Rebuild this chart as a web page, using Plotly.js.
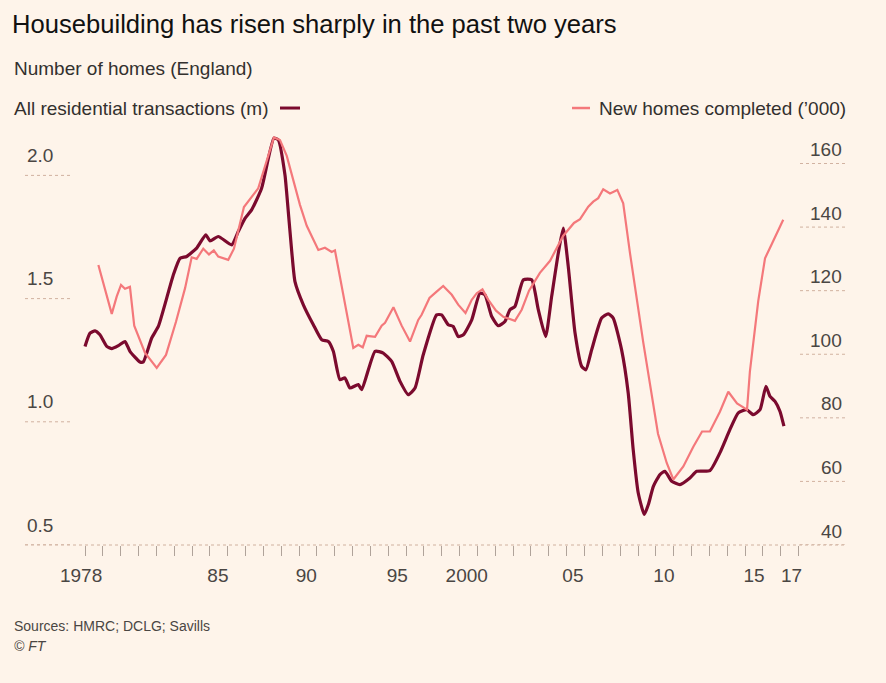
<!DOCTYPE html>
<html>
<head>
<meta charset="utf-8">
<script src="https://cdn.plot.ly/plotly-3.0.1.min.js"></script>
<style>
  html, body { margin: 0; padding: 0; background: #fef4ea; }
  #chart { width: 886px; height: 683px; }
</style>
</head>
<body>
<div id="chart"></div>
<script>
// All residential transactions (m)
const transYears = [
  1978.0, 1978.28, 1978.56, 1978.84, 1979.22, 1979.50, 1979.87, 1980.24, 1980.52, 1981.08,
  1981.27, 1981.74, 1982.11, 1982.58, 1982.95, 1983.33, 1983.70, 1984.26, 1984.77, 1985.01,
  1985.47, 1986.22, 1986.59, 1986.97, 1987.34, 1987.90, 1988.59, 1988.84, 1989.21, 1989.30,
  1989.59, 1989.77, 1990.24, 1990.80, 1991.27, 1991.64, 1991.92, 1992.29, 1992.57, 1992.85,
  1993.32, 1993.51, 1994.26, 1994.72, 1995.19, 1995.66, 1996.12, 1996.50, 1996.96, 1997.71,
  1997.99, 1998.36, 1998.64, 1998.92, 1999.21, 1999.68, 2000.14, 2000.42, 2000.80, 2001.17,
  2001.54, 2001.82, 2002.10, 2002.57, 2003.04, 2003.41, 2003.82, 2004.16, 2004.53, 2004.81,
  2005.09, 2005.47, 2005.84, 2006.08, 2006.40, 2006.96, 2007.33, 2007.61, 2008.08, 2008.45,
  2008.73, 2009.01, 2009.35, 2009.58, 2009.86, 2010.23, 2010.51, 2010.89, 2011.35, 2011.91,
  2012.29, 2013.03, 2013.59, 2014.15, 2014.62, 2015.09, 2015.46, 2015.84, 2016.17, 2016.40,
  2016.68, 2016.96, 2017.18
];
const transValues = [
  1.306, 1.360, 1.369, 1.353, 1.306, 1.297, 1.309, 1.326, 1.286, 1.243,
  1.243, 1.340, 1.387, 1.502, 1.596, 1.664, 1.671, 1.705, 1.759, 1.734,
  1.752, 1.718, 1.772, 1.826, 1.860, 1.948, 2.151, 2.144, 2.002, 1.934,
  1.691, 1.569, 1.475, 1.394, 1.333, 1.326, 1.286, 1.171, 1.178, 1.137,
  1.151, 1.130, 1.286, 1.279, 1.245, 1.164, 1.110, 1.137, 1.272, 1.434,
  1.434, 1.394, 1.387, 1.346, 1.353, 1.414, 1.522, 1.515, 1.427, 1.390,
  1.407, 1.455, 1.468, 1.576, 1.576, 1.455, 1.346, 1.509, 1.684, 1.786,
  1.630, 1.360, 1.225, 1.211, 1.292, 1.421, 1.438, 1.421, 1.292, 1.117,
  0.887, 0.712, 0.624, 0.664, 0.738, 0.786, 0.799, 0.759, 0.745, 0.772,
  0.799, 0.802, 0.874, 0.968, 1.036, 1.049, 1.029, 1.049, 1.144, 1.103,
  1.083, 1.042, 0.982
];

// New homes completed ('000)
const homesYears = [
  1978.75, 1979.50, 1979.78, 1980.02, 1980.24, 1980.52, 1980.76, 1981.36, 1982.02, 1982.54,
  1983.10, 1983.61, 1983.98, 1984.26, 1984.63, 1984.95, 1985.22, 1985.47, 1986.03, 1986.35,
  1986.91, 1987.34, 1987.71, 1988.59, 1988.93, 1989.31, 1989.68, 1990.05, 1990.43, 1990.80,
  1991.08, 1991.45, 1991.83, 1992.01, 1992.29, 1993.04, 1993.32, 1993.57, 1993.79, 1994.26,
  1994.63, 1994.82, 1995.29, 1995.75, 1996.22, 1996.68, 1996.87, 1997.31, 1997.71, 1998.08,
  1998.56, 1998.92, 1999.33, 1999.68, 1999.96, 2000.28, 2000.61, 2001.04, 2001.45, 2002.10,
  2002.48, 2002.89, 2003.50, 2004.07, 2004.80, 2005.41, 2005.75, 2006.21, 2006.49, 2006.77,
  2007.05, 2007.43, 2007.84, 2008.17, 2008.55, 2009.30, 2010.12, 2010.61, 2010.98, 2011.54,
  2012.10, 2012.59, 2013.03, 2013.59, 2014.06, 2014.55, 2015.11, 2015.27, 2015.74, 2016.12,
  2016.40, 2016.73, 2017.14
];
const homesValues = [
  128.1, 112.7, 118.2, 121.8, 120.6, 121.2, 109.0, 100.5, 95.7, 99.8,
  110.2, 120.8, 130.5, 130.0, 133.2, 131.4, 132.7, 130.7, 129.7, 133.2,
  146.3, 149.6, 152.2, 168.2, 167.4, 162.4, 154.5, 147.0, 140.4, 136.0,
  132.8, 133.5, 132.2, 132.7, 124.4, 102.0, 103.0, 102.2, 105.8, 105.5,
  109.0, 109.9, 114.8, 109.0, 104.0, 110.8, 112.4, 117.7, 119.7, 121.5,
  118.7, 115.6, 113.0, 117.1, 119.2, 120.4, 117.1, 113.7, 111.8, 110.5,
  114.0, 120.0, 125.6, 129.4, 137.2, 141.3, 142.5, 146.4, 148.0, 149.1,
  151.9, 150.6, 151.7, 147.5, 131.8, 103.5, 75.0, 65.8, 60.6, 64.7,
  70.9, 75.7, 75.7, 81.9, 88.2, 84.5, 82.6, 94.5, 116.8, 130.2,
  133.5, 137.2, 142.3
];

// axis labels
const yearLabels = ['1978', '85', '90', '95', '2000', '05', '10', '15', '17'];
const yearLabelAt = [1977.78, 1985.45, 1990.4, 1995.5, 1999.4, 2005.35, 2010.45, 2015.5, 2017.6];
const leftTicks = [0.5, 1.0, 1.5, 2.0];
const rightTicks = [40, 60, 80, 100, 120, 140, 160];

const DARK = '#7b0a2e';
const PINK = '#f4787b';
const BG = '#fef4ea';
const DOTS = 'rgba(190,150,130,0.7)';
const FONT = 'Liberation Sans, Arial, sans-serif';

// plot box in pixels
const L = 80, R = 800, T = 130, B = 545.5;
const px = x => (x - L) / (R - L);
const py = y => (B - y) / (B - T);

const traces = [
  {
    x: homesYears, y: homesValues, yaxis: 'y2', type: 'scatter', mode: 'lines',
    line: { color: PINK, width: 2.2 }, hoverinfo: 'x+y'
  },
  {
    x: transYears, y: transValues, yaxis: 'y', type: 'scatter', mode: 'lines',
    line: { color: DARK, width: 3.2, shape: 'spline', smoothing: 0.5 }, hoverinfo: 'x+y'
  },
  // carries the year labels on a second x axis
  {
    x: yearLabelAt, y: yearLabelAt.map(() => null), xaxis: 'x2', type: 'scatter',
    mode: 'lines', showlegend: false, hoverinfo: 'skip'
  }
];

const annotations = [];
const shapes = [];

leftTicks.forEach(v => {
  annotations.push({
    xref: 'paper', yref: 'y', x: px(25), y: v, xanchor: 'left', yanchor: 'middle',
    yshift: 20, text: v.toFixed(1), showarrow: false,
    font: { family: FONT, size: 19, color: '#4a4643' }
  });
  shapes.push({
    type: 'line', xref: 'paper', yref: 'y', x0: px(25), x1: px(70), y0: v, y1: v,
    line: { color: DOTS, width: 1, dash: 'dot' }
  });
});

rightTicks.forEach(v => {
  annotations.push({
    xref: 'paper', yref: 'y2', x: px(844), y: v, xanchor: 'right', yanchor: 'middle',
    yshift: 14, text: String(v), showarrow: false,
    font: { family: FONT, size: 19, color: '#4a4643' }
  });
  shapes.push({
    type: 'line', xref: 'paper', yref: 'y2', x0: px(800), x1: px(845), y0: v, y1: v,
    line: { color: DOTS, width: 1, dash: 'dot' }
  });
});

// bottom dotted baseline
shapes.push({
  type: 'line', xref: 'paper', yref: 'paper', x0: px(25), x1: px(847), y0: 0, y1: 0,
  line: { color: DOTS, width: 1, dash: 'dot' }
});

// legend keys
shapes.push({
  type: 'line', xref: 'paper', yref: 'paper', x0: px(280), x1: px(300), y0: py(108), y1: py(108),
  line: { color: DARK, width: 3 }
});
shapes.push({
  type: 'line', xref: 'paper', yref: 'paper', x0: px(572), x1: px(590), y0: py(108), y1: py(108),
  line: { color: PINK, width: 2.5 }
});

const textRows = [
  { x: 12, y: 68, text: 'Number of homes (England)', anchor: 'left', size: 19, color: '#33302e' },
  { x: 12, y: 108, text: 'All residential transactions (m)', anchor: 'left', size: 19, color: '#33302e' },
  { x: 848, y: 108, text: 'New homes completed (’000)', anchor: 'right', size: 19, color: '#33302e' },
  { x: 12, y: 627, text: 'Sources: HMRC; DCLG; Savills', anchor: 'left', size: 14, color: '#4a4643' },
  { x: 12, y: 647, text: '<i>© FT</i>', anchor: 'left', size: 14, color: '#4a4643' }
];
textRows.forEach(r => {
  annotations.push({
    xref: 'paper', yref: 'paper', x: px(r.x), y: py(r.y), xanchor: r.anchor, yanchor: 'middle',
    text: r.text, showarrow: false, font: { family: FONT, size: r.size, color: r.color }
  });
});

const layout = {
  width: 886,
  height: 683,
  margin: { l: L, r: 886 - R, t: T, b: 683 - B, pad: 0 },
  paper_bgcolor: BG,
  plot_bgcolor: BG,
  showlegend: false,
  title: {
    text: 'Housebuilding has risen sharply in the past two years',
    xref: 'container', yref: 'container', x: 12 / 886, xanchor: 'left',
    y: 1 - 24 / 683, yanchor: 'middle',
    font: { family: FONT, size: 25.6, color: '#111' }
  },
  xaxis: {
    range: [1977.72, 2018.08],
    tickmode: 'linear', tick0: 1978, dtick: 1,
    ticks: 'outside', ticklen: 10, tickwidth: 1, tickcolor: '#b0a39a',
    showticklabels: false, showgrid: false, zeroline: false, showline: false,
    fixedrange: true
  },
  xaxis2: {
    overlaying: 'x', matches: 'x', anchor: 'y', side: 'bottom',
    tickmode: 'array', tickvals: yearLabelAt, ticktext: yearLabels,
    ticks: '', ticklabelstandoff: 17, showgrid: false, zeroline: false, showline: false,
    tickfont: { family: FONT, size: 19, color: '#4a4643' }
  },
  yaxis: {
    range: [0.5, 0.5 + (B - T) / 246.7],
    showticklabels: false, ticks: '', showgrid: false, zeroline: false, showline: false
  },
  yaxis2: {
    overlaying: 'y', side: 'right',
    range: [40, 40 + (B - T) / 3.183],
    showticklabels: false, ticks: '', showgrid: false, zeroline: false, showline: false
  },
  annotations: annotations,
  shapes: shapes
};

Plotly.newPlot('chart', traces, layout, { staticPlot: true, responsive: false });
</script>
</body>
</html>
